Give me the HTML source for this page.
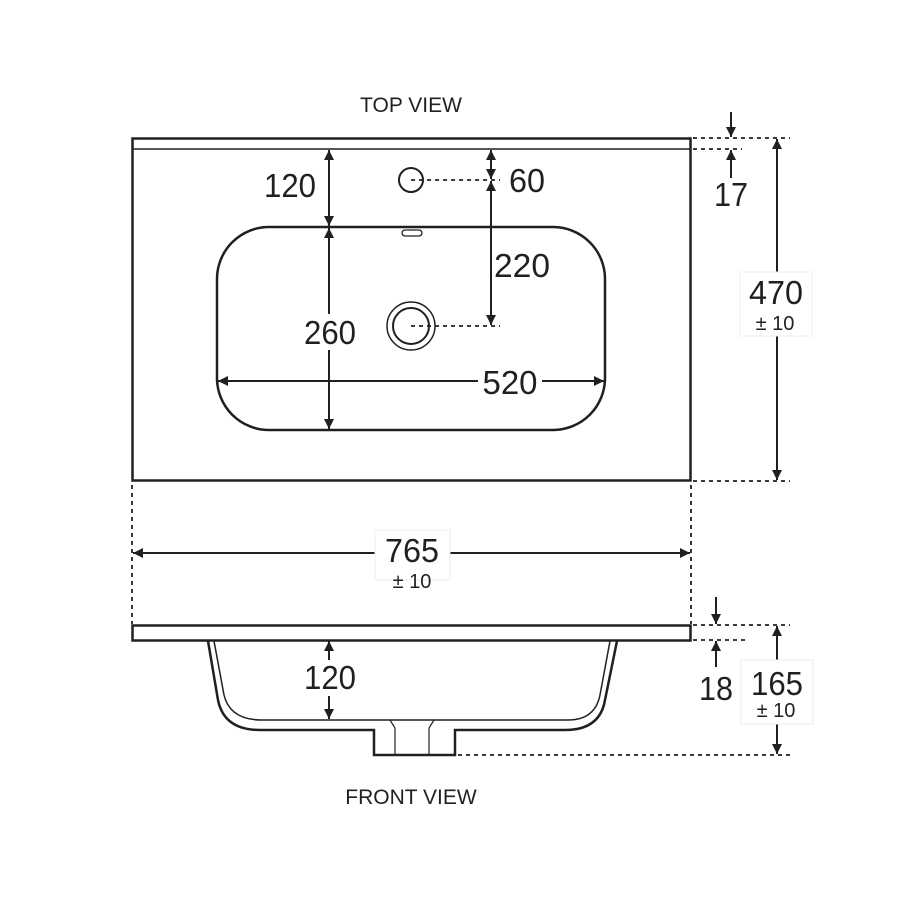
<!DOCTYPE html>
<html><head><meta charset="utf-8"><style>html,body{margin:0;padding:0;background:#fff}svg{display:block}</style></head>
<body>
<svg width="900" height="900" viewBox="0 0 900 900" xmlns="http://www.w3.org/2000/svg" font-family="'Liberation Sans Narrow','Liberation Sans',sans-serif" fill="#231f20">
<defs>
<marker id="a" viewBox="0 0 10 10" refX="10" refY="5" markerWidth="6.5" markerHeight="5" orient="auto-start-reverse"><path d="M0,0L10,5L0,10z" fill="#231f20"/></marker>
</defs>
<g stroke="#231f20" fill="none">
<rect x="132.5" y="138.5" width="558" height="342" stroke-width="2.5"/>
<line x1="133" y1="149" x2="690" y2="149" stroke-width="1.5"/>
<rect x="217" y="227" width="388" height="203" rx="52" stroke-width="2.5"/>
<circle cx="411" cy="180" r="12" stroke-width="2"/>
<circle cx="411" cy="326" r="24" stroke-width="1.5"/>
<circle cx="411" cy="326" r="18" stroke-width="2"/>
<rect x="402" y="230" width="20" height="6" rx="3" stroke-width="1.3"/>
<g stroke-width="2">
<line x1="329" y1="150" x2="329" y2="226" marker-start="url(#a)" marker-end="url(#a)"/>
<line x1="329" y1="228" x2="329" y2="429" marker-start="url(#a)" marker-end="url(#a)"/>
<line x1="491" y1="150" x2="491" y2="179" marker-start="url(#a)" marker-end="url(#a)"/>
<line x1="491" y1="181" x2="491" y2="325" marker-start="url(#a)" marker-end="url(#a)"/>
<line x1="218" y1="381" x2="604" y2="381" marker-start="url(#a)" marker-end="url(#a)"/>
<line x1="777" y1="139" x2="777" y2="480" marker-start="url(#a)" marker-end="url(#a)"/>
<line x1="731" y1="112" x2="731" y2="137" marker-end="url(#a)"/>
<line x1="731" y1="178" x2="731" y2="150" marker-end="url(#a)"/>
<line x1="133" y1="553" x2="690" y2="553" marker-start="url(#a)" marker-end="url(#a)"/>
</g>
<g stroke-width="1.8" stroke-dasharray="4,4">
<line x1="411" y1="180" x2="500" y2="180"/>
<line x1="411" y1="326" x2="500" y2="326"/>
<line x1="693" y1="138" x2="790" y2="138"/>
<line x1="693" y1="149" x2="742" y2="149"/>
<line x1="693" y1="481" x2="790" y2="481"/>
<line x1="132" y1="485" x2="132" y2="624"/>
<line x1="691" y1="485" x2="691" y2="624"/>
<line x1="693" y1="625" x2="790" y2="625"/>
<line x1="693" y1="640" x2="745" y2="640"/>
<line x1="458" y1="755" x2="790" y2="755"/>
</g>
<rect x="132.5" y="625.5" width="558" height="15" stroke-width="2.5"/>
<path d="M208,641 L218,700 Q224,730 260,730 L374,730 L374,755 L455,755 L455,730 L565,730 Q600,730 605,700 L617,641" stroke-width="2.5"/>
<path d="M214,641 L224,695 Q230,720 262,720 L568,720 Q595,720 600,695 L610,641" stroke-width="1.5"/>
<path d="M390,720 L395,728 L395,755 M434,720 L429,728 L429,755" stroke-width="1.2"/>
<g stroke-width="2">
<line x1="329" y1="641" x2="329" y2="719" marker-start="url(#a)" marker-end="url(#a)"/>
<line x1="716" y1="597" x2="716" y2="624" marker-end="url(#a)"/>
<line x1="716" y1="667" x2="716" y2="641" marker-end="url(#a)"/>
<line x1="777" y1="626" x2="777" y2="754" marker-start="url(#a)" marker-end="url(#a)"/>
</g>
</g>
<g fill="#fff">
<rect x="302" y="314" width="56" height="36"/>
<rect x="478" y="364" width="64" height="36"/>
<rect x="740" y="272" width="72" height="64" stroke="#eee"/>
<rect x="375" y="530" width="75" height="50" stroke="#eee"/>
<rect x="302" y="660" width="56" height="36"/>
<rect x="741" y="660" width="72" height="64" stroke="#eee"/>
</g>
<g font-size="33" text-anchor="middle">
<text x="290" y="197" textLength="52" lengthAdjust="spacingAndGlyphs">120</text>
<text x="330" y="344" textLength="52" lengthAdjust="spacingAndGlyphs">260</text>
<text x="527" y="192" textLength="36" lengthAdjust="spacingAndGlyphs">60</text>
<text x="522" y="277" textLength="56" lengthAdjust="spacingAndGlyphs">220</text>
<text x="510" y="394" textLength="55" lengthAdjust="spacingAndGlyphs">520</text>
<text x="731" y="206" textLength="34" lengthAdjust="spacingAndGlyphs">17</text>
<text x="776" y="304" textLength="54" lengthAdjust="spacingAndGlyphs">470</text>
<text x="412" y="562" textLength="54" lengthAdjust="spacingAndGlyphs">765</text>
<text x="330" y="689" textLength="52" lengthAdjust="spacingAndGlyphs">120</text>
<text x="716" y="700" textLength="34" lengthAdjust="spacingAndGlyphs">18</text>
<text x="777" y="695" textLength="52" lengthAdjust="spacingAndGlyphs">165</text>
</g>
<g font-size="20" text-anchor="middle">
<text x="775" y="330">± 10</text>
<text x="412" y="588">± 10</text>
<text x="776" y="717">± 10</text>
</g>
<g font-family="'Liberation Sans',sans-serif" font-size="21" text-anchor="middle">
<text x="411" y="112">TOP VIEW</text>
<text x="411" y="804">FRONT VIEW</text>
</g>
</svg>
</body></html>
